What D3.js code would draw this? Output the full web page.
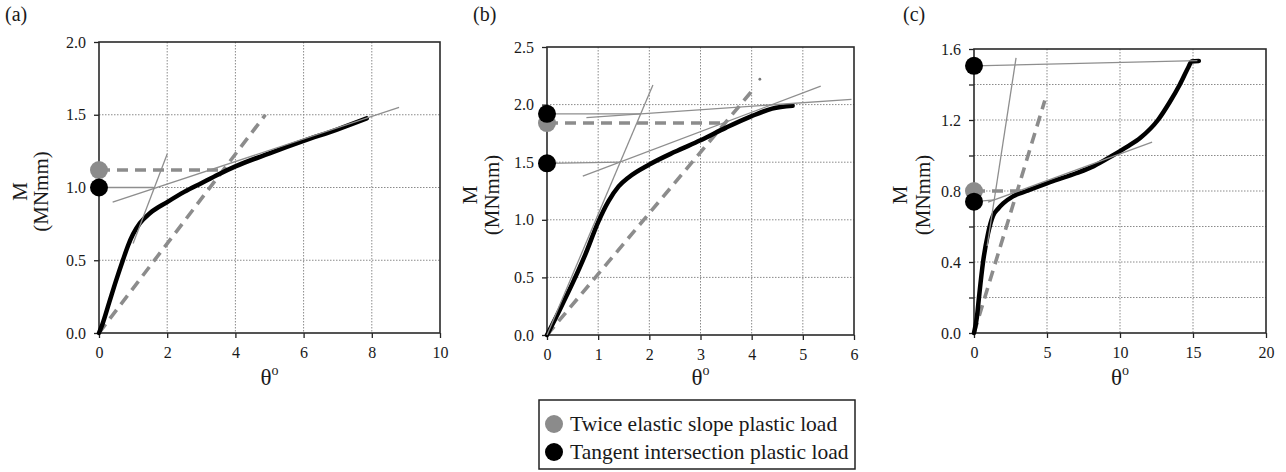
<!DOCTYPE html>
<html>
<head>
<meta charset="utf-8">
<script src="https://cdn.jsdelivr.net/npm/d3@7"></script>
<style>
  html, body { margin: 0; padding: 0; background: #fff; }
  svg { display: block; }
  text { font-family: "Liberation Serif", "Times New Roman", serif; fill: #1a1a1a; }
</style>
</head>
<body>
<svg id="chart" width="1286" height="472"></svg>
<script>
// ---------------- DATA ----------------
const panelNames = ["(a)", "(b)", "(c)"];

// moment-rotation curves [theta (deg), M (MNmm)]
const curveA = [[0,0],[0.1,0.06],[0.3,0.21],[0.5,0.36],[0.7,0.5],[0.85,0.6],[1.0,0.68],[1.2,0.755],[1.5,0.825],[2.0,0.9],[2.5,0.97],[3.0,1.03],[3.5,1.09],[4.0,1.145],[5.0,1.235],[6.0,1.32],[7.0,1.4],[7.85,1.475]];
const curveB = [[0,0],[0.25,0.22],[0.5,0.45],[0.75,0.7],[1.0,0.98],[1.2,1.16],[1.4,1.29],[1.6,1.37],[2.0,1.48],[2.5,1.59],[3.0,1.69],[3.5,1.8],[4.0,1.9],[4.4,1.965],[4.8,1.99]];
const curveC = [[0,0],[0.2,0.09],[0.34,0.2],[0.62,0.4],[0.96,0.56],[1.3,0.66],[1.65,0.7],[2.0,0.73],[2.67,0.77],[3.6,0.8],[5.2,0.85],[7.0,0.9],[8.2,0.94],[9.5,1.0],[10.5,1.05],[11.4,1.1],[12.6,1.2],[13.4,1.3],[14.1,1.4],[14.7,1.5],[14.9,1.53],[15.4,1.533]];

// thin tangent lines: each is [[x1,y1],[x2,y2]]
const tangentsA = [[[1.0,0.615],[2.0,1.23]], [[0.4,0.9],[8.8,1.55]], [[0,1.0],[1.6,1.0]]];
const tangentsB = [[[0,0],[2.07,2.17]], [[0.7,1.38],[5.35,2.16]], [[0.77,1.887],[5.95,2.046]], [[0,1.49],[1.44,1.5]], [[0,1.92],[1.83,1.92]]];
const tangentsC = [[[0.9,0.49],[2.88,1.55]], [[0.96,0.737],[12.2,1.075]], [[0,0.74],[1.39,0.75]], [[0,1.505],[15.3,1.535]]];

// dashed "twice elastic slope" constructions
const dashedA = [[[0,0],[4.88,1.5]], [[0,1.12],[3.67,1.12]]];
const dashedB = [[[0,0],[3.99,2.11]], [[0,1.84],[3.45,1.84]]];
const dashedC = [[[0,0],[4.85,1.31]], [[0,0.8],[3.2,0.8]]];

// plastic load markers on M axis
const grayDotsA = [1.12];  const blackDotsA = [1.0];
const grayDotsB = [1.84];  const blackDotsB = [1.92, 1.49];
const grayDotsC = [0.8];   const blackDotsC = [0.74, 1.505];
const strayDotsB = [[4.16, 2.22]];

// axis ticks
const xTicksA = [0,2,4,6,8,10];     const yTicksA = [0,0.5,1.0,1.5,2.0];
const xTicksB = [0,1,2,3,4,5,6];    const yTicksB = [0,0.5,1.0,1.5,2.0,2.5];
const xTicksC = [0,5,10,15,20];     const yTicksC = [0,0.2,0.4,0.6,0.8,1.0,1.2,1.4,1.6];
const yLabelsC = [0,0.4,0.8,1.2,1.6];

const legendLabels = ["Twice elastic slope plastic load", "Tangent intersection plastic load"];

// ---------------- LAYOUT ----------------
const panels = [
  {name: panelNames[0], box: [99, 440, 42, 333], xd: [0,10], yd: [0,2.0], xt: xTicksA, yt: yTicksA, yl: yTicksA,
   curve: curveA, tang: tangentsA, dash: dashedA, gray: grayDotsA, black: blackDotsA, stray: [], nameX: 5, mX: [27, 48]},
  {name: panelNames[1], box: [547, 854, 47, 335], xd: [0,6], yd: [0,2.5], xt: xTicksB, yt: yTicksB, yl: yTicksB,
   curve: curveB, tang: tangentsB, dash: dashedB, gray: grayDotsB, black: blackDotsB, stray: strayDotsB, nameX: 473, mX: [477, 499]},
  {name: panelNames[2], box: [974, 1266, 49, 333], xd: [0,20], yd: [0,1.6], xt: xTicksC, yt: yTicksC, yl: yLabelsC,
   curve: curveC, tang: tangentsC, dash: dashedC, gray: grayDotsC, black: blackDotsC, stray: [], nameX: 903, mX: [907, 930]}
];

const svg = d3.select("#chart");
const GRID = "#8a8a8a", THIN = "#8e8e8e", DASH = "#8c8c8c", DOTGRAY = "#8b8b8b";

panels.forEach(p => {
  const [x0, x1, yT, yB] = p.box;
  const x = d3.scaleLinear().domain(p.xd).range([x0, x1]);
  const y = d3.scaleLinear().domain(p.yd).range([yB, yT]);
  const g = svg.append("g");

  // grid
  g.selectAll(".vg").data(p.xt.slice(1, -1)).join("line")
    .attr("x1", d => x(d)).attr("x2", d => x(d)).attr("y1", yT).attr("y2", yB)
    .attr("stroke", GRID).attr("stroke-width", 1).attr("stroke-dasharray", "1.5,1.5");
  g.selectAll(".hg").data(p.yt.slice(1, -1)).join("line")
    .attr("x1", x0).attr("x2", x1).attr("y1", d => y(d)).attr("y2", d => y(d))
    .attr("stroke", GRID).attr("stroke-width", 1).attr("stroke-dasharray", "1.5,1.5");

  // axes
  const fmtY = d => p.yl.some(v => Math.abs(v - d) < 1e-9) ? d3.format(".1f")(d) : "";
  const ya = g.append("g").attr("transform", `translate(${x0},0)`)
    .call(d3.axisLeft(y).tickValues(p.yt).tickSize(5).tickPadding(8).tickFormat(fmtY));
  const xa = g.append("g").attr("transform", `translate(0,${yB})`)
    .call(d3.axisBottom(x).tickValues(p.xt).tickSize(5).tickPadding(9).tickFormat(d3.format("d")));
  [ya, xa].forEach(a => {
    a.select(".domain").remove();
    a.selectAll("line").attr("stroke", "#222").attr("stroke-width", 1.3);
    a.selectAll("text").style("font-family", '"Liberation Serif", serif').style("font-size", "16px").attr("fill", "#1a1a1a");
  });

  // frame
  g.append("rect").attr("x", x0).attr("y", yT).attr("width", x1 - x0).attr("height", yB - yT)
    .attr("fill", "none").attr("stroke", "#2a2a2a").attr("stroke-width", 1.6);

  const line = d3.line().x(d => x(d[0])).y(d => y(d[1]));

  // dashed constructions
  g.selectAll(".dash").data(p.dash).join("path")
    .attr("d", line).attr("fill", "none").attr("stroke", DASH).attr("stroke-width", 3.6)
    .attr("stroke-dasharray", "11,7");

  // main curve
  g.append("path").datum(p.curve)
    .attr("d", d3.line().x(d => x(d[0])).y(d => y(d[1])).curve(d3.curveMonotoneX))
    .attr("fill", "none").attr("stroke", "#000").attr("stroke-width", 4.5)
    .attr("stroke-linejoin", "round").attr("stroke-linecap", "round");

  // thin tangent lines
  g.selectAll(".tan").data(p.tang).join("path")
    .attr("d", line).attr("fill", "none").attr("stroke", THIN).attr("stroke-width", 1.3);

  // stray dot
  g.selectAll(".stray").data(p.stray).join("circle")
    .attr("cx", d => x(d[0])).attr("cy", d => y(d[1])).attr("r", 1.4).attr("fill", "#777");

  // markers
  g.selectAll(".gd").data(p.gray).join("circle")
    .attr("cx", x(0)).attr("cy", d => y(d)).attr("r", 9).attr("fill", DOTGRAY);
  g.selectAll(".bd").data(p.black).join("circle")
    .attr("cx", x(0)).attr("cy", d => y(d)).attr("r", 9).attr("fill", "#000");

  // panel label
  svg.append("text").attr("x", p.nameX).attr("y", 21).style("font-size", "20px").text(p.name);

  // y title
  const cy = (yT + yB) / 2 + 4;
  svg.append("text").attr("transform", `translate(${p.mX[0]},${cy}) rotate(-90)`)
    .attr("text-anchor", "middle").style("font-size", "21px").text("M");
  svg.append("text").attr("transform", `translate(${p.mX[1]},${cy}) rotate(-90)`)
    .attr("text-anchor", "middle").style("font-size", "21px").text("(MNmm)");

  // x title
  const xt = svg.append("text").attr("x", (x0 + x1) / 2).attr("y", 385)
    .attr("text-anchor", "middle").style("font-size", "23px");
  xt.append("tspan").text("θ");
  xt.append("tspan").attr("dy", -10).style("font-size", "14px").text("o");
});

// legend
const lg = svg.append("g");
lg.append("rect").attr("x", 539).attr("y", 400).attr("width", 316).attr("height", 69)
  .attr("fill", "#fff").attr("stroke", "#222").attr("stroke-width", 1.5);
const legColors = [DOTGRAY, "#000"];
lg.selectAll(".li").data(legendLabels).join("g")
  .attr("transform", (d, i) => `translate(0,${424 + i * 28})`)
  .each(function(d, i) {
    const s = d3.select(this);
    s.append("circle").attr("cx", 554).attr("cy", 0).attr("r", 9).attr("fill", legColors[i]);
    s.append("text").attr("x", 570).attr("y", 7).style("font-size", "21.5px").text(d);
  });
</script>
</body>
</html>
